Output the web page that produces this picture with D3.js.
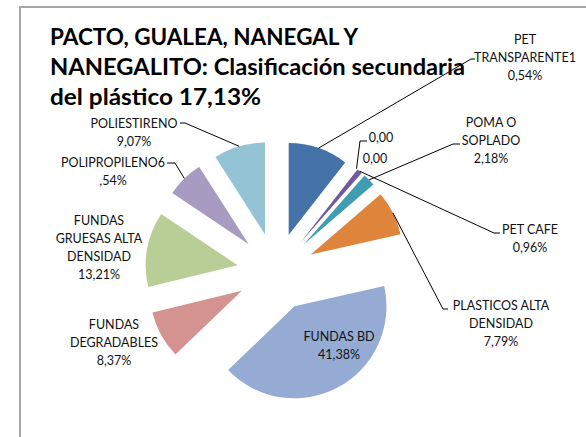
<!DOCTYPE html>
<html><head><meta charset="utf-8">
<script src="https://cdn.jsdelivr.net/npm/d3@7/dist/d3.min.js"></script>
<style>
html,body{margin:0;padding:0;background:#fff;}
svg{display:block;}
text{font-family:Lato,"Noto Sans",sans-serif;fill:#111;}
</style></head>
<body>
<svg id="c" width="586" height="437"></svg>
<script>
// ---- data ----
const categories = ["PET TRANSPARENTE", "", "", "PET CAFE", "POMA O SOPLADO",
  "PLASTICOS ALTA DENSIDAD", "FUNDAS BD", "FUNDAS DEGRADABLES",
  "FUNDAS GRUESAS ALTA DENSIDAD", "POLIPROPILENO", "POLIESTIRENO"];
const values = [10.54, 0, 0, 0.96, 2.18, 7.79, 41.38, 8.37, 13.21, 6.54, 9.07];
const labelLines = [
  ["PET", "TRANSPARENTE1", "0,54%"],
  ["0,00"],
  ["0,00"],
  ["PET CAFE", "0,96%"],
  ["POMA O", "SOPLADO", "2,18%"],
  ["PLASTICOS ALTA", "DENSIDAD", "7,79%"],
  ["FUNDAS BD", "41,38%"],
  ["FUNDAS", "DEGRADABLES", "8,37%"],
  ["FUNDAS", "GRUESAS ALTA", "DENSIDAD", "13,21%"],
  ["POLIPROPILENO6", ",54%"],
  ["POLIESTIRENO", "9,07%"]
];
const titleLines = ["PACTO, GUALEA, NANEGAL Y", "NANEGALITO: Clasificación secundaria", "del plástico 17,13%"];
const colors = ["#4573a8", "#a9423f", "#86a342", "#6e5a9c", "#3e9db3", "#de843b",
  "#95abd3", "#d49391", "#b9cd96", "#a89bc2", "#93c3d5"];

// ---- layout (not data) ----
const cx = 276, cy = 272, R = 92, explode = 39;
const labelLayout = [
  {x: 525, y: 39, knee: [471, 59], end: [475, 59]},
  {x: 381, y: 137, knee: [360, 141], end: [367, 141]},
  {x: 375, y: 158},
  {x: 530, y: 229, knee: [494, 233], end: [500, 233]},
  {x: 491, y: 122, knee: [453, 144], end: [460, 144]},
  {x: 501, y: 305, knee: [443, 309], end: [448, 309]},
  {x: 339, y: 336},
  {x: 114, y: 324},
  {x: 99, y: 220},
  {x: 113, y: 162, knee: [175, 163], end: [167, 163], firstLineOnly: true},
  {x: 134, y: 123, knee: [185, 123], end: [180, 123]}
];
const lineH = 18;

const svg = d3.select("#c");

// frame
svg.append("path")
  .attr("d", "M20,440 L20,7 L590,7")
  .attr("fill", "none").attr("stroke", "#a6a6a6").attr("stroke-width", 2);

// title
const title = svg.append("g");
const titleWidths = [308, 415, 211];
titleLines.forEach((t, i) => {
  title.append("text")
    .attr("x", 50).attr("y", 45 + i * 30)
    .attr("font-size", 22).attr("font-weight", "bold")
    .attr("textLength", titleWidths[i]).attr("lengthAdjust", "spacingAndGlyphs")
    .style("fill", "#000")
    .text(t);
});

// pie
const pie = d3.pie().sort(null).value(d => d).startAngle(0).endAngle(2 * Math.PI);
const arcs = pie(values);
const arc = d3.arc().innerRadius(0).outerRadius(R);

const g = svg.append("g").attr("transform", `translate(${cx},${cy})`);
g.selectAll("path.slice").data(arcs).join("path")
  .attr("class", "slice")
  .attr("d", arc)
  .attr("fill", (d, i) => colors[i])
  .attr("transform", d => {
    const a = (d.startAngle + d.endAngle) / 2;
    return `translate(${explode * Math.sin(a)},${-explode * Math.cos(a)})`;
  });

// leader lines
arcs.forEach((d, i) => {
  const L = labelLayout[i];
  if (!L.knee) return;
  const a = (d.startAngle + d.endAngle) / 2;
  const px = cx + (explode + R) * Math.sin(a);
  const py = cy - (explode + R) * Math.cos(a);
  svg.append("path")
    .attr("d", d3.line()([[px, py], L.knee, L.end]))
    .attr("fill", "none").attr("stroke", "#000").attr("stroke-width", 1);
});

// labels
labelLines.forEach((lines, i) => {
  const L = labelLayout[i];
  lines.forEach((t, j) => {
    svg.append("text")
      .attr("x", L.x).attr("y", L.y + j * lineH)
      .attr("dy", "0.36em")
      .attr("text-anchor", "middle")
      .attr("font-size", 12.5)
      .text(t);
  });
});
</script>
</body></html>
